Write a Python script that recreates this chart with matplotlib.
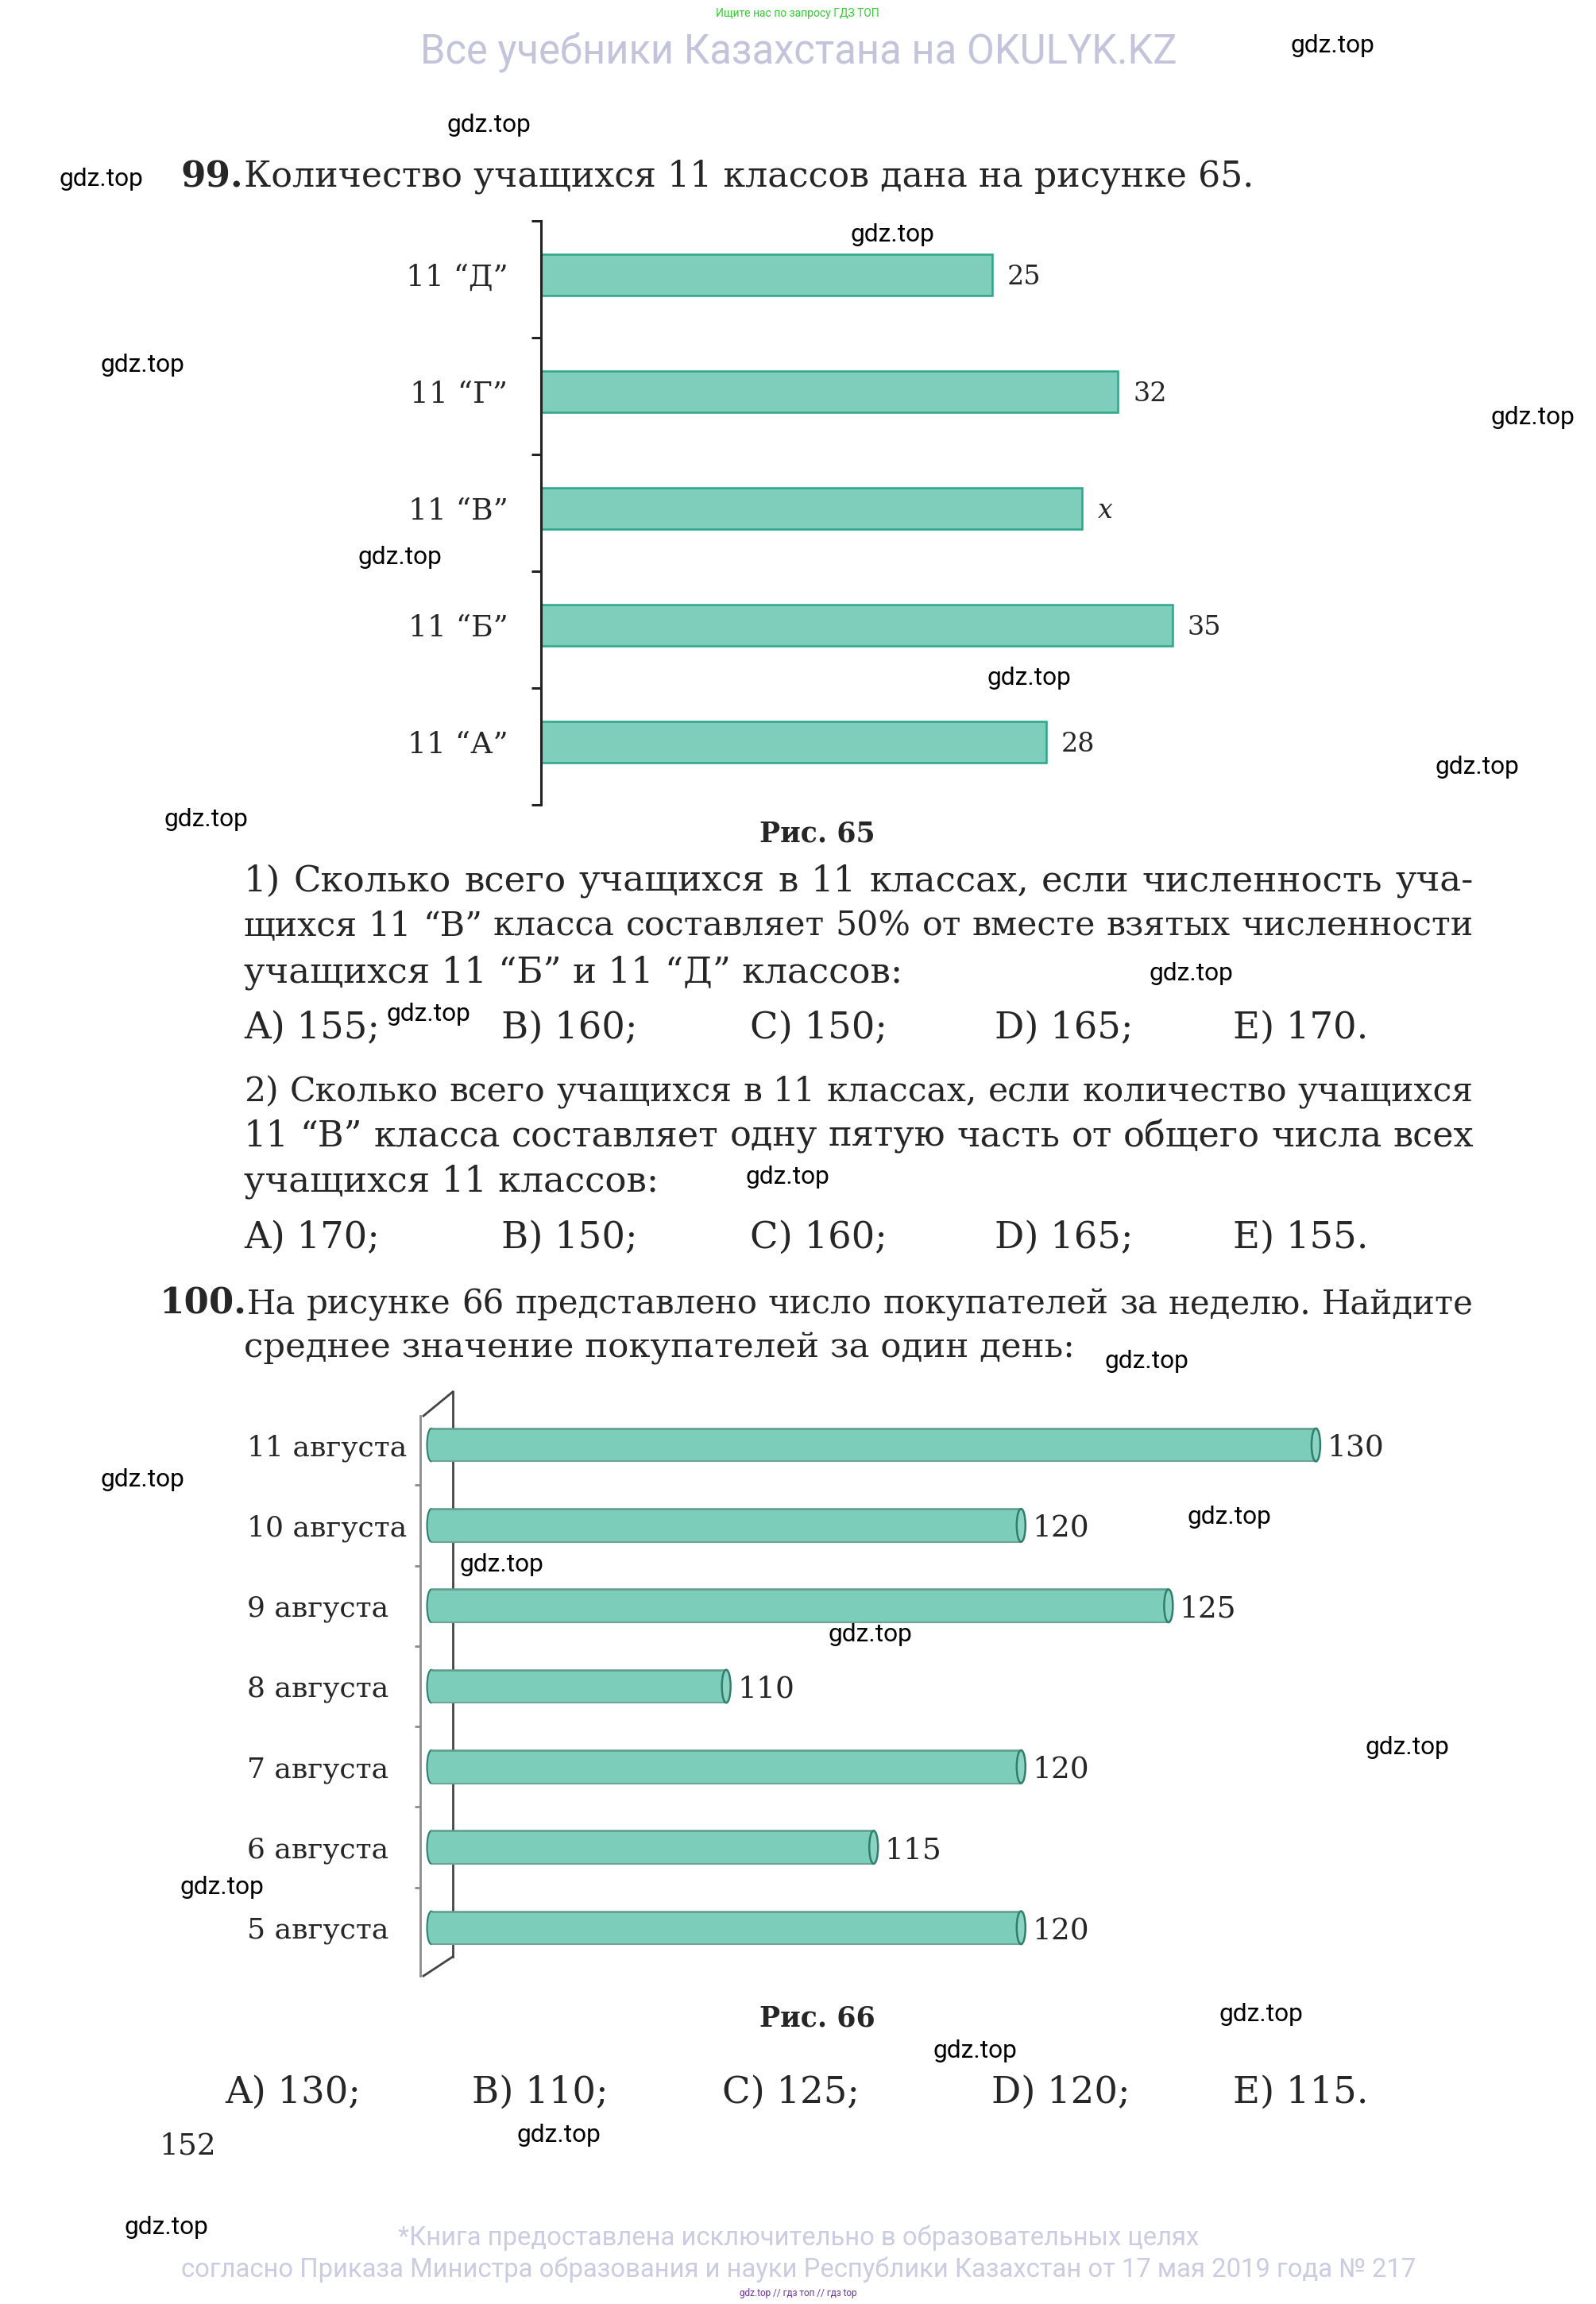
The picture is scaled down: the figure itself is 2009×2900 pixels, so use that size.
import numpy as np
import matplotlib
matplotlib.use('Agg')
import matplotlib.pyplot as plt
from matplotlib.patches import Ellipse

# --- data ---------------------------------------------------------------
classes = ['11 “А”', '11 “Б”', '11 “В”', '11 “Г”', '11 “Д”']
students = [28, 35, 30, 32, 25]
student_labels = ['28', '35', 'x', '32', '25']

days = ['5 августа', '6 августа', '7 августа', '8 августа',
        '9 августа', '10 августа', '11 августа']
buyers = [120, 115, 120, 110, 125, 120, 130]

para1 = ['1) Сколько всего учащихся в 11 классах, если численность уча-',
         'щихся 11 “В” класса составляет 50% от вместе взятых численности',
         'учащихся 11 “Б” и 11 “Д” классов:']
opts1 = ['A) 155;', 'B) 160;', 'C) 150;', 'D) 165;', 'E) 170.']
para2 = ['2) Сколько всего учащихся в 11 классах, если количество учащихся',
         '11 “В” класса составляет одну пятую часть от общего числа всех',
         'учащихся 11 классов:']
opts2 = ['A) 170;', 'B) 150;', 'C) 160;', 'D) 165;', 'E) 155.']
para3 = ['На рисунке 66 представлено число покупателей за неделю. Найдите',
         'среднее значение покупателей за один день:']
opts3 = ['A) 130;', 'B) 110;', 'C) 125;', 'D) 120;', 'E) 115.']

watermarks = [(1624, 54), (563, 154), (74, 222), (1070, 293), (126, 457),
              (1876, 522), (450, 698), (1242, 850), (1807, 963), (206, 1029),
              (1446, 1222), (487, 1274), (939, 1479), (1391, 1711), (126, 1859),
              (1494, 1907), (578, 1966), (1042, 2055), (1718, 2196), (226, 2372),
              (1535, 2533), (1174, 2579), (650, 2685), (157, 2800)]

W, H = 2009, 2900
fig = plt.figure(figsize=(W / 100, H / 100), dpi=100)
SERIF = 'DejaVu Serif'
INK = '#262626'


def fx(x):
    return x / W


def fy(y):
    return 1 - y / H


def put(x, y, s, size, ha='left', color=INK, family=SERIF, weight='normal', style='normal'):
    return fig.text(fx(x), fy(y), s, fontsize=size, ha=ha, va='center_baseline',
                    color=color, family=family, weight=weight, style=style)


def justified(line, x0, x1, y, size, min_gap=14):
    words = line.split(' ')
    objs = [put(x0, y, w, size) for w in words]
    r = fig.canvas.get_renderer()
    widths = [o.get_window_extent(r).width for o in objs]
    avail = x1 - x0
    if sum(widths) + min_gap * (len(words) - 1) > avail:
        # too long for this font: shrink the line a little
        f = (avail - min_gap * (len(words) - 1)) / sum(widths)
        for o in objs:
            o.set_fontsize(size * f)
        widths = [o.get_window_extent(r).width for o in objs]
    gap = (avail - sum(widths)) / (len(words) - 1)
    x = x0
    for o, w in zip(objs, widths):
        o.set_x(fx(x))
        x += w + gap


PSIZE = 32.5
OSIZE = 33.5
L, R = 307, 1855

# --- header / footer ----------------------------------------------------
put(1004, 15, 'Ищите нас по запросу ГДЗ ТОП', 10, ha='center', color='#33cc33', family='Roboto')
put(1005, 61, 'Все учебники Казахстана на OKULYK.KZ', 36.5, ha='center', color='#c3c3dc', family='Roboto')
put(1005, 2813, '*Книга предоставлена исключительно в образовательных целях', 23.6,
    ha='center', color='#cbcbe2', family='Roboto')
put(1005, 2853, 'согласно Приказа Министра образования и науки Республики Казахстан от 17 мая 2019 года № 217',
    23.6, ha='center', color='#cbcbe2', family='Roboto')
put(1005, 2885, 'gdz.top // гдз топ // гдз top', 8.5, ha='center', color='#663399', family='Roboto')
for x, y in watermarks:
    put(x, y, 'gdz.top', 22.8, color='black', family='Roboto')

# --- text ---------------------------------------------------------------
put(228, 218, '99.', PSIZE, weight='bold')
put(L, 218, 'Количество учащихся 11 классов дана на рисунке 65.', 31.9)
put(1029, 1046, 'Рис. 65', 25, ha='center', weight='bold')

for line, y in zip(para1[:2], [1105, 1161]):
    justified(line, L, R, y, PSIZE)
put(L, 1220, para1[2], PSIZE)
for s, x in zip(opts1, [307, 631, 944, 1252, 1552]):
    put(x, 1289, s, OSIZE)

for line, y in zip(para2[:2], [1370, 1426]):
    justified(line, L, R, y, PSIZE)
put(L, 1483, para2[2], PSIZE)
for s, x in zip(opts2, [307, 631, 944, 1252, 1552]):
    put(x, 1553, s, OSIZE)

put(200, 1637, '100.', PSIZE, weight='bold')
justified(para3[0], L + 4, R, 1637, PSIZE)
put(L, 1692, para3[1], 31.3)
put(1029, 2537, 'Рис. 66', 25, ha='center', weight='bold')
for s, x in zip(opts3, [283, 594, 909, 1248, 1552]):
    put(x, 2629, s, OSIZE)
put(200, 2698, '152', 27)

# --- chart 1 (Рис. 65) --------------------------------------------------
ax1 = fig.add_axes([fx(681), fy(1013), fx(908), 735 / H])
pos1 = np.arange(len(classes))
shift = 0.04
ax1.barh(pos1, students, height=0.354, color='#7fcdbb', edgecolor='#2aa68a', linewidth=1.8)
ax1.set_xlim(0, 40)
ax1.set_ylim(-0.5 - shift, len(classes) - 0.5 - shift)
for side in ['top', 'right', 'bottom']:
    ax1.spines[side].set_visible(False)
ax1.spines['left'].set_linewidth(2.2)
ax1.spines['left'].set_color('#222222')
ax1.set_xticks([])
ax1.set_yticks(pos1, classes, fontsize=27, family=SERIF, color=INK)
ax1.set_yticks(np.arange(-0.5, len(classes), 1) - shift, minor=True)
ax1.tick_params(axis='y', which='major', length=0, pad=30)
ax1.tick_params(axis='y', which='minor', length=9, width=2.2, color='#222222', direction='out')
for i, (v, s) in enumerate(zip(students, student_labels)):
    ax1.annotate(s, (v, i), xytext=(14, 0), textcoords='offset points', ha='left',
                 va='center_baseline', fontsize=24, family=SERIF, color=INK,
                 style='italic' if s == 'x' else 'normal')

# --- chart 2 (Рис. 66) --------------------------------------------------
x0, x1 = 100, 135
ax2 = fig.add_axes([fx(543), fy(2477), fx(1299), 709 / H])
ppu = 1299 / (x1 - x0)
pos2 = np.arange(len(days))
bh = 0.41
cap = 11 / ppu
ax2.barh(pos2, np.array(buyers) - x0, left=x0, height=bh, color='#7dcdbb', edgecolor='none', zorder=3)
ax2.hlines(pos2 + bh / 2, x0, buyers, color='#5f9a8b', lw=1.8, zorder=4)
ax2.hlines(pos2 - bh / 2, x0, buyers, color='#6aa596', lw=1.5, zorder=4)
for p, v in zip(pos2, buyers):
    ax2.add_patch(Ellipse((x0, p), cap, bh, facecolor='#7dcdbb', edgecolor='#2f7f6d',
                          lw=1.5, zorder=2, clip_on=False))
    ax2.add_patch(Ellipse((v, p), cap, bh, facecolor='#8dd3c3', edgecolor='#2f7f6d',
                          lw=1.8, zorder=5, clip_on=False))
    ax2.annotate(str(v), (v, p), xytext=(10, 0), textcoords='offset points', ha='left',
                 va='center_baseline', fontsize=27, family=SERIF, color=INK)
ax2.set_xlim(x0, x1)
ax2.set_ylim(-0.5, len(days) - 0.5)
for side in ['top', 'right', 'bottom']:
    ax2.spines[side].set_visible(False)
ax2.spines['left'].set_position(('outward', 10))
ax2.spines['left'].set_bounds(-0.6, len(days) - 0.64)
ax2.spines['left'].set_color('#8c8c8c')
ax2.spines['left'].set_linewidth(2)
ax2.set_xticks([])
ax2.set_yticks(pos2, days, fontsize=26, family=SERIF, color=INK)
for lbl in ax2.get_yticklabels():
    lbl.set_horizontalalignment('left')
ax2.set_yticks(np.arange(0.5, len(days) - 1, 1), minor=True)
ax2.tick_params(axis='y', which='major', length=0, pad=157)
ax2.tick_params(axis='y', which='minor', length=5, width=2, color='#8c8c8c', direction='out')
# 3D frame: back wall line and the two joining diagonals
xf = x0 - 10 / ppu
xb = x0 + 27 / ppu
ytop_f, ytop_b = len(days) - 0.64, len(days) - 0.34
ybot_f, ybot_b = -0.6, -0.36
ax2.plot([xb, xb], [ybot_b, ytop_b], color='#444444', lw=2, zorder=1, clip_on=False)
ax2.plot([xf, xb], [ytop_f, ytop_b], color='#444444', lw=2, zorder=1, clip_on=False)
ax2.plot([xf, xb], [ybot_f, ybot_b], color='#444444', lw=2, zorder=1, clip_on=False)

fig.savefig('out.png', dpi=100, facecolor='white')
